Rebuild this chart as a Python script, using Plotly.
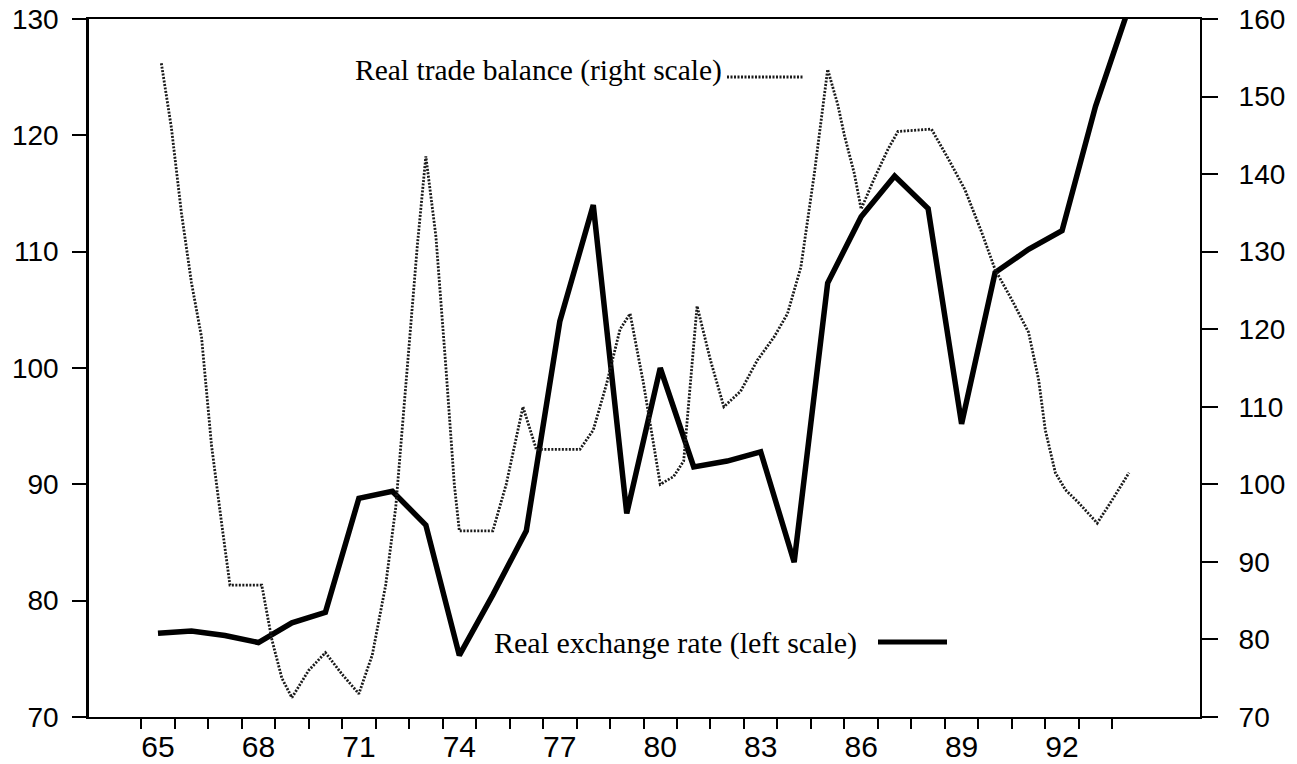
import plotly.graph_objects as go

# Real exchange rate (left scale), annual
er_years = [65, 66, 67, 68, 69, 70, 71, 72, 73, 74, 75, 76, 77, 78, 79, 80, 81, 82, 83, 84, 85, 86, 87, 88, 89, 90, 91, 92, 93, 94]
er_values = [77.2, 77.4, 77.0, 76.4, 78.1, 79.0, 88.8, 89.4, 86.5, 75.3, 80.5, 86.0, 104.0, 114.0, 87.5, 100.0, 91.5, 92.0, 92.8, 83.3, 107.3, 113.0, 116.5, 113.7, 95.2, 108.2, 110.2, 111.8, 122.5, 131.0]

# Real trade balance (right scale), sub-annual readings
tb_years = [65.1, 65.4, 65.7, 66.0, 66.3, 66.6, 66.9, 67.15, 68.1, 68.4, 68.7, 69.0, 69.5, 70.0, 70.5, 71.0,
            71.4, 71.8, 72.1, 72.4, 72.75, 73.0, 73.3, 73.6, 73.85, 74.0, 75.0, 75.4, 75.9, 76.3, 77.6,
            78.0, 78.4, 78.8, 79.1, 79.5, 80.0, 80.4, 80.7, 81.1, 81.5, 81.9, 82.4, 82.9,
            83.4, 83.8, 84.2, 84.6, 85.0, 85.3, 85.5, 85.8, 86.0, 86.4, 86.8, 87.1, 88.1, 88.6, 89.1,
            89.6, 90.0, 90.5, 91.0, 91.3, 91.5, 91.8, 92.1, 92.5, 93.05, 93.5, 94.0]
tb_values = [154.3, 146.0, 135.0, 126.0, 119.0, 105.0, 95.0, 87.0, 87.0, 80.0, 75.0, 72.5, 76.0, 78.3, 75.5, 73.0,
             78.0, 87.0, 97.0, 113.0, 131.0, 142.3, 132.0, 115.0, 100.0, 94.0, 94.0, 100.0, 110.0, 104.5, 104.5,
             107.0, 113.0, 120.0, 122.0, 113.0, 100.0, 101.0, 103.0, 123.0, 116.0, 110.0, 112.0, 116.0,
             119.0, 122.0, 128.0, 140.0, 153.5, 149.0, 145.0, 140.0, 135.5, 139.5, 143.2, 145.5, 145.8, 142.0, 138.0,
             132.5, 127.7, 123.8, 119.6, 113.5, 107.0, 101.5, 99.3, 97.6, 95.0, 98.0, 101.5]

x_labels = [65, 68, 71, 74, 77, 80, 83, 86, 89, 92]
x_boundaries = [y + 0.5 for y in range(64, 94)]
left_ticks = [70, 80, 90, 100, 110, 120, 130]
right_ticks = [70, 80, 90, 100, 110, 120, 130, 140, 150, 160]

fig = go.Figure()
fig.add_trace(go.Scatter(x=tb_years, y=tb_values, yaxis="y2", mode="lines",
                         line=dict(color="#1a1a1a", width=2.8, dash="2px,1.5px"), showlegend=False))
fig.add_trace(go.Scatter(x=er_years, y=er_values, yaxis="y", mode="lines",
                         line=dict(color="black", width=5.5), showlegend=False))

OFF = 8  # page body offset
W, H = 1297 - OFF, 764 - OFF
ml, mr, mt, mb = 89 - OFF, 97, 19 - OFF, 47
pw, ph = W - ml - mr, H - mt - mb

def px(x):
    return (x - OFF - ml) / pw

def py(y):
    return 1 - (y - OFF - mt) / ph

fig.update_layout(
    width=W, height=H,
    autosize=False,
    margin=dict(l=ml, r=mr, t=mt, b=mb, pad=0, autoexpand=False),
    plot_bgcolor="white", paper_bgcolor="white",
    showlegend=False,
    xaxis=dict(range=[62.94, 96.12], showgrid=False, zeroline=False, automargin=False,
               showline=True, linecolor="black", linewidth=2, mirror=True,
               tickmode="array", tickvals=x_labels, ticktext=[str(v) for v in x_labels],
               ticks="", ticklabelstandoff=2, ticklabeloverflow="allow",
               tickfont=dict(family="Liberation Sans, Arial", size=30, color="black"),
               minor=dict(tickmode="array", tickvals=x_boundaries, ticks="outside",
                          ticklen=10, tickwidth=2, tickcolor="black", showgrid=False)),
    yaxis=dict(range=[70, 130], showgrid=False, zeroline=False, automargin=False,
               showline=True, linecolor="black", linewidth=2.5,
               tickmode="array", tickvals=left_ticks,
               ticks="outside", ticklen=14, tickwidth=2, tickcolor="black",
               ticklabelstandoff=8, ticklabeloverflow="allow",
               tickfont=dict(family="Liberation Sans, Arial", size=28, color="black")),
    yaxis2=dict(range=[70, 160], overlaying="y", side="right", showgrid=False, zeroline=False,
                automargin=False,
                showline=True, linecolor="black", linewidth=2,
                tickmode="array", tickvals=right_ticks,
                ticks="outside", ticklen=16, tickwidth=2, tickcolor="black",
                ticklabelstandoff=15, ticklabeloverflow="allow",
                tickfont=dict(family="Liberation Sans, Arial", size=28, color="black")),
)

fig.add_annotation(x=px(353), y=py(71), xref="paper", yref="paper",
                   text="Real trade balance (right scale)", showarrow=False,
                   xanchor="left", yanchor="middle",
                   font=dict(family="Liberation Serif, Times New Roman", size=29.5, color="black"))
fig.add_shape(type="line", xref="paper", yref="paper",
              x0=px(727), x1=px(803), y0=py(77), y1=py(77),
              line=dict(color="#1a1a1a", width=2.8, dash="2px,1.5px"))

fig.add_annotation(x=px(492), y=py(643), xref="paper", yref="paper",
                   text="Real exchange rate (left scale)", showarrow=False,
                   xanchor="left", yanchor="middle",
                   font=dict(family="Liberation Serif, Times New Roman", size=30, color="black"))
fig.add_shape(type="line", xref="paper", yref="paper",
              x0=px(878), x1=px(947), y0=py(642), y1=py(642),
              line=dict(color="black", width=5))

fig.write_html("out.html")
